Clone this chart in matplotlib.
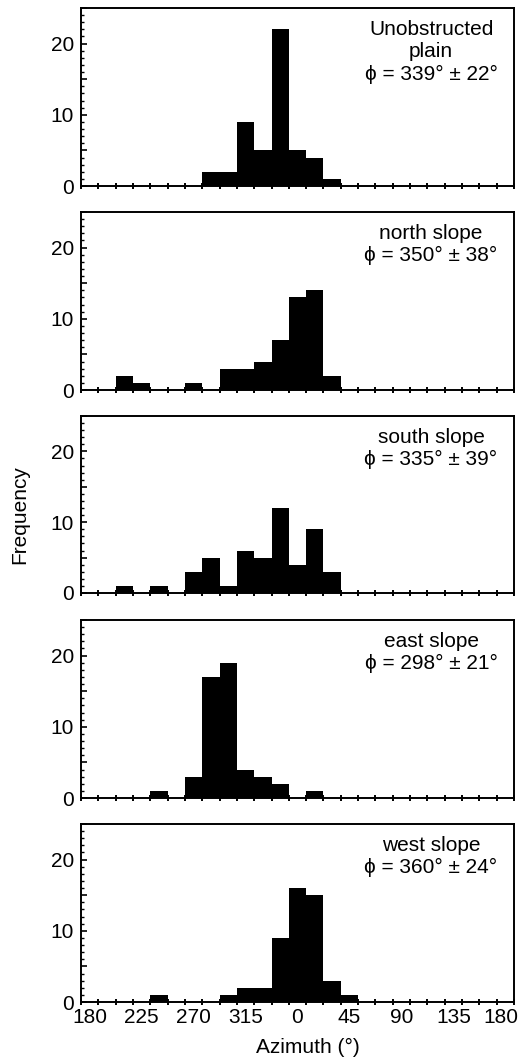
import numpy as np
import matplotlib
matplotlib.use("Agg")
import matplotlib.pyplot as plt
import matplotlib.transforms as mtransforms
from matplotlib.ticker import MultipleLocator, FixedLocator, NullFormatter, FuncFormatter

plt.rcParams['font.family'] = ['Liberation Sans', 'DejaVu Sans']

# 25 azimuth bins of 15 deg, centred on 180, 195, ..., 540 (=180) deg
bin_first_center = 180.0
bin_width = 15.0
n_bins = 25

unobstructed = [0, 0, 0, 0, 0, 0, 0, 2, 2, 9, 5, 22, 5, 4, 1, 0, 0, 0, 0, 0, 0, 0, 0, 0, 0]
north = [0, 0, 2, 1, 0, 0, 1, 0, 3, 3, 4, 7, 13, 14, 2, 0, 0, 0, 0, 0, 0, 0, 0, 0, 0]
south = [0, 0, 1, 0, 1, 0, 3, 5, 1, 6, 5, 12, 4, 9, 3, 0, 0, 0, 0, 0, 0, 0, 0, 0, 0]
east = [0, 0, 0, 0, 1, 0, 3, 17, 19, 4, 3, 2, 0, 1, 0, 0, 0, 0, 0, 0, 0, 0, 0, 0, 0]
west = [0, 0, 0, 0, 1, 0, 0, 0, 1, 2, 2, 9, 16, 15, 3, 1, 0, 0, 0, 0, 0, 0, 0, 0, 0]

panel_series = [unobstructed, north, south, east, west]
panel_titles = ["Unobstructed\nplain", "north slope", "south slope", "east slope", "west slope"]
panel_mean = [339, 350, 335, 298, 360]
panel_sd = [22, 38, 39, 21, 24]

xtick_values = [180, 225, 270, 315, 360, 405, 450, 495, 540]
xtick_labels = ["180", "225", "270", "315", "0", "45", "90", "135", "180"]

W, H = 518, 1059
fig = plt.figure(figsize=(W / 100, H / 100), dpi=100)

edges = bin_first_center - bin_width / 2 + bin_width * np.arange(n_bins + 1)
panel_px = [(8, 186), (212, 390), (416, 593), (620, 798), (824, 1002)]
left_px, right_px = 81, 514

for i, (series, title, m, s) in enumerate(zip(panel_series, panel_titles, panel_mean, panel_sd)):
    top, bot = panel_px[i]
    ax = fig.add_axes([left_px / W, 1 - bot / H, (right_px - left_px) / W, (bot - top) / H])
    ax.stairs(series, edges, fill=True, color='black', linewidth=0)
    ax.set_xlim(edges[0], edges[-1])
    ax.set_ylim(0, 25)
    for sp in ax.spines.values():
        sp.set_linewidth(1.4)
    ax.xaxis.remove_overlapping_locs = False
    # x ticks at bin edges, labels at multiples of 45
    ax.xaxis.set_major_locator(FixedLocator(edges))
    ax.xaxis.set_major_formatter(NullFormatter())
    ax.tick_params(axis='x', which='major', direction='inout', length=5, width=1.4, top=False)
    ax.set_xticks(xtick_values, minor=True)
    if i == len(panel_series) - 1:
        ax.set_xticklabels(xtick_labels, minor=True)
    else:
        ax.set_xticklabels([], minor=True)
    ax.tick_params(axis='x', which='minor', length=0, labelsize=15, pad=4)
    # y ticks
    ax.yaxis.set_major_locator(MultipleLocator(5))
    ax.yaxis.set_major_formatter(FuncFormatter(
        lambda v, p: f"{int(round(v))}" if int(round(v)) % 10 == 0 else ""))
    ax.yaxis.set_minor_locator(MultipleLocator(1))
    ax.tick_params(axis='y', which='major', direction='in', length=4, width=1.2,
                   labelsize=15, pad=5, right=False)
    ax.tick_params(axis='y', which='minor', direction='in', length=2, width=1.0, right=False)
    ax.text(0.962, 0.935, f"{title}\n\u03d5 = {m}\u00b0 \u00b1 {s}\u00b0",
            transform=ax.transAxes, ha='right', va='top', multialignment='center',
            fontsize=15, linespacing=1.25)
    if i == len(panel_series) - 1:
        ax.set_xlabel("Azimuth (\u00b0)", fontsize=15, labelpad=8,
                      x=(308 - left_px) / (right_px - left_px))
        lbls = ax.get_xticklabels(minor=True)
        shift = mtransforms.ScaledTranslation(-4 / 100, 0, fig.dpi_scale_trans)
        lbls[-1].set_transform(lbls[-1].get_transform() + shift)

fig.text(20 / W, 1 - 515 / H, "Frequency", rotation=90, ha='center', va='center', fontsize=15)

fig.savefig("out.png", dpi=100)
